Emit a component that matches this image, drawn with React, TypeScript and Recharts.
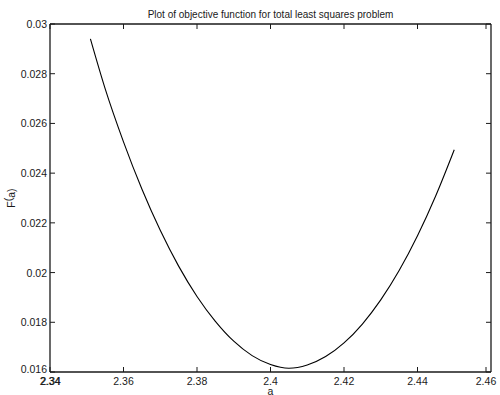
import React from "react";
import { LineChart, Line, XAxis, YAxis, Label } from "recharts";

// values
const aValues = [2.351, 2.355, 2.36, 2.365, 2.37, 2.375, 2.38, 2.385, 2.39, 2.395, 2.4, 2.405, 2.41, 2.415, 2.42, 2.425, 2.43, 2.435, 2.44, 2.445, 2.45];
const fValues = [0.0294, 0.0274, 0.02526, 0.02336, 0.0217, 0.02026, 0.01904, 0.01804, 0.01724, 0.01666, 0.0163, 0.01615, 0.01628, 0.01662, 0.01717, 0.01793, 0.0189, 0.02008, 0.02148, 0.0231, 0.02494];
const xTicks = [2.34, 2.36, 2.38, 2.4, 2.42, 2.44, 2.46];
const yTicks = [0.016, 0.018, 0.02, 0.022, 0.024, 0.026, 0.028, 0.03];
const xTickLabels = ["2.34", "2.36", "2.38", "2.4", "2.42", "2.44", "2.46"];
const yTickLabels = ["0.016", "0.018", "0.02", "0.022", "0.024", "0.026", "0.028", "0.03"];

const rows = aValues.map((a, i) => ({ a, f: fValues[i] }));

const FONT = "'Liberation Sans', Arial, Helvetica, sans-serif";
const INK = "#1a1a1a";
const TICK_LEN = 5;
const TICK_FONT = 10.5;

const labelFor = (list: number[], names: string[], v: number) => {
  const i = list.findIndex((t) => Math.abs(t - v) < 1e-9);
  return i >= 0 ? names[i] : String(v);
};

function BottomTick(props: any) {
  const { x, y, payload } = props;
  const text = labelFor(xTicks, xTickLabels, payload.value);
  return (
    <g>
      <line x1={x} x2={x} y1={y} y2={y - TICK_LEN} stroke={INK} strokeWidth={1} />
      <text x={x} y={y + 13} textAnchor="middle" fontSize={TICK_FONT} fontFamily={FONT} fill={INK}>
        {text}
      </text>
      {text === "2.34" && (
        <text x={x + 0.6} y={y + 13} textAnchor="middle" fontSize={TICK_FONT} fontFamily={FONT} fill={INK}>
          {text}
        </text>
      )}
    </g>
  );
}

function TopTick(props: any) {
  const { x, y } = props;
  return <line x1={x} x2={x} y1={y} y2={y + TICK_LEN} stroke={INK} strokeWidth={1} />;
}

function LeftTick(props: any) {
  const { x, y, payload } = props;
  const text = labelFor(yTicks, yTickLabels, payload.value);
  const shift = text === "0.016" ? -3 : 0;
  return (
    <g>
      <line x1={x} x2={x + TICK_LEN} y1={y} y2={y} stroke={INK} strokeWidth={1} />
      <text x={x - 3} y={y + 4 + shift} textAnchor="end" fontSize={TICK_FONT} fontFamily={FONT} fill={INK}>
        {text}
      </text>
    </g>
  );
}

function RightTick(props: any) {
  const { x, y } = props;
  return <line x1={x} x2={x - TICK_LEN} y1={y} y2={y} stroke={INK} strokeWidth={1} />;
}

export default function App() {
  return (
    <div style={{ position: "absolute", left: 0, top: 0, width: 500, height: 395, background: "#fff" }}>
      <LineChart width={500} height={395} data={rows} margin={{ top: 23, right: 8, bottom: 0, left: 0 }}>
        <XAxis
          dataKey="a"
          type="number"
          domain={[2.34, 2.46]}
          ticks={xTicks}
          allowDataOverflow
          height={23}
          tickSize={0}
          tickMargin={0}
          tickLine={false}
          tick={<BottomTick />}
          axisLine={{ stroke: INK, strokeWidth: 1.3 }}
        >
          <Label
            content={(p: any) => {
              const vb = p.viewBox;
              return (
                <text x={vb.x + vb.width / 2} y={vb.y + 23} textAnchor="middle" fontSize={TICK_FONT} fontFamily={FONT} fill={INK}>
                  a
                </text>
              );
            }}
          />
        </XAxis>
        <XAxis
          xAxisId="top"
          orientation="top"
          dataKey="a"
          type="number"
          domain={[2.34, 2.46]}
          ticks={xTicks}
          allowDataOverflow
          height={1}
          tickSize={0}
          tickMargin={0}
          tickLine={false}
          tick={<TopTick />}
          axisLine={{ stroke: INK, strokeWidth: 1.3 }}
        >
          <Label
            content={(p: any) => {
              const vb = p.viewBox;
              return (
                <text x={vb.x + vb.width / 2} y={17.5} textAnchor="middle" fontSize={10} fontFamily={FONT} fill={INK}>
                  Plot of objective function for total least squares problem
                </text>
              );
            }}
          />
        </XAxis>
        <YAxis
          type="number"
          domain={[0.016, 0.03]}
          ticks={yTicks}
          allowDataOverflow
          width={50}
          tickSize={0}
          tickMargin={0}
          tickLine={false}
          tick={<LeftTick />}
          axisLine={{ stroke: INK, strokeWidth: 1.3 }}
        >
          <Label
            content={(p: any) => {
              const vb = p.viewBox;
              const cx = 15;
              const cy = vb.y + vb.height / 2;
              return (
                <text
                  x={cx}
                  y={cy}
                  textAnchor="middle"
                  fontSize={TICK_FONT}
                  fontFamily={FONT}
                  fill={INK}
                  transform={`rotate(-90 ${cx} ${cy})`}
                >
                  F<tspan dy={-3}>(</tspan>
                  <tspan dy={3}>a)</tspan>
                </text>
              );
            }}
          />
        </YAxis>
        <YAxis
          yAxisId="right"
          orientation="right"
          type="number"
          domain={[0.016, 0.03]}
          ticks={yTicks}
          allowDataOverflow
          width={1}
          tickSize={0}
          tickMargin={0}
          tickLine={false}
          tick={<RightTick />}
          axisLine={{ stroke: INK, strokeWidth: 1.3 }}
        />
        <Line
          type="monotone"
          dataKey="f"
          stroke="#000"
          strokeWidth={1.1}
          dot={false}
          isAnimationActive={false}
        />
      </LineChart>
    </div>
  );
}
